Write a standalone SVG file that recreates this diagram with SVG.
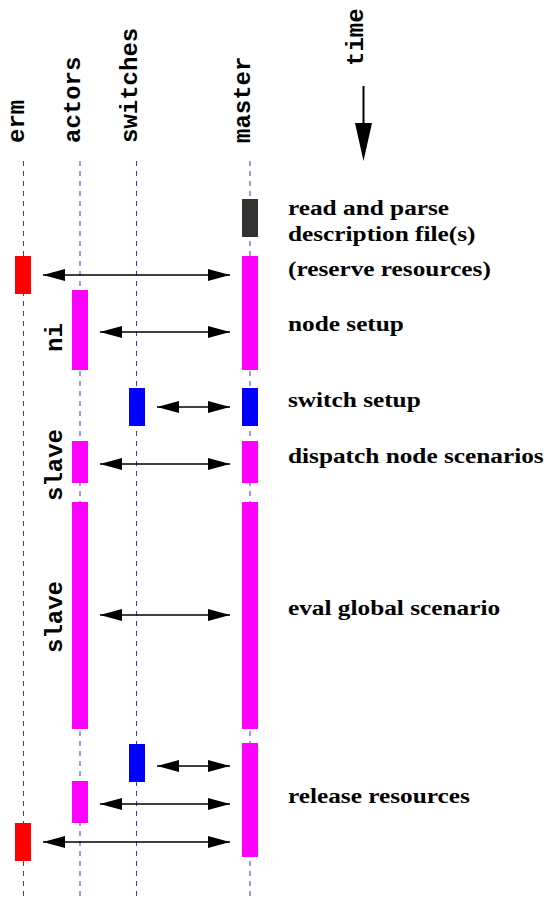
<svg xmlns="http://www.w3.org/2000/svg" width="544" height="899" viewBox="0 0 544 899">
<defs>
<marker id="ah" markerUnits="userSpaceOnUse" markerWidth="22" markerHeight="12" refX="22" refY="6" orient="auto-start-reverse" viewBox="0 0 22 12">
<path d="M0,0 L22,6 L0,12 z" fill="#000"/>
</marker>
<style>
.life{stroke:#3333ff;stroke-width:1;stroke-dasharray:5 5;fill:none}
.lbl{font-family:'Liberation Mono','DejaVu Sans Mono',monospace;font-weight:700;font-size:24px;fill:#000}
.txt{font-family:'Times New Roman','Liberation Serif','DejaVu Serif',serif;font-weight:700;font-size:22px;fill:#000}
.msg{stroke:#000;stroke-width:1.6;fill:none;marker-start:url(#ah);marker-end:url(#ah)}
.mag{fill:#ff00ff}
.red{fill:#ff0000}
.blu{fill:#0000ff}
.drk{fill:#333333}
</style>
</defs>
<rect width="544" height="899" fill="#fff"/>

<g id="lifelines">
<line class="life" x1="23.5" y1="161" x2="23.5" y2="899"/>
<line class="life" x1="80" y1="161" x2="80" y2="899"/>
<line class="life" x1="136.5" y1="161" x2="136.5" y2="899"/>
<line class="life" x1="250" y1="161" x2="250" y2="899"/>
</g>

<g id="headers">
<text class="lbl" transform="translate(23.5,143) rotate(-90)">erm</text>
<text class="lbl" transform="translate(80,143) rotate(-90)">actors</text>
<text class="lbl" transform="translate(137,143) rotate(-90)">switches</text>
<text class="lbl" transform="translate(250,143) rotate(-90)">master</text>
<text class="lbl" transform="translate(363,66) rotate(-90)">time</text>
</g>

<g id="time-arrow">
<line x1="363.5" y1="86" x2="363.5" y2="126" stroke="#000" stroke-width="2"/>
<polygon points="355,123 372,123 363.5,161" fill="#000"/>
</g>

<g id="side-labels">
<text class="lbl" transform="translate(62,352) rotate(-90)">ni</text>
<text class="lbl" transform="translate(62,501) rotate(-90)">slave</text>
<text class="lbl" transform="translate(62,653) rotate(-90)">slave</text>
</g>

<g id="activations">
<rect id="master-parse" class="drk" x="242" y="199" width="16" height="38"/>
<rect id="erm-reserve" class="red" x="15" y="256" width="16" height="38"/>
<rect id="master-reserve" class="mag" x="242" y="256" width="16" height="114"/>
<rect id="actors-ni" class="mag" x="72" y="290" width="16" height="80"/>
<rect id="switches-setup" class="blu" x="129" y="388" width="16" height="38"/>
<rect id="master-switch" class="blu" x="242" y="388" width="16" height="38"/>
<rect id="actors-dispatch" class="mag" x="72" y="441" width="16" height="42"/>
<rect id="master-dispatch" class="mag" x="242" y="441" width="16" height="42"/>
<rect id="actors-eval" class="mag" x="72" y="502" width="16" height="227"/>
<rect id="master-eval" class="mag" x="242" y="502" width="16" height="227"/>
<rect id="switches-release" class="blu" x="129" y="744" width="16" height="38"/>
<rect id="master-release" class="mag" x="242" y="743" width="16" height="114"/>
<rect id="actors-release" class="mag" x="72" y="781" width="16" height="42"/>
<rect id="erm-release" class="red" x="15" y="823" width="16" height="38"/>
</g>

<g id="connectors">
<line class="msg" x1="43" y1="275" x2="230" y2="275"/>
<line class="msg" x1="100" y1="332" x2="230" y2="332"/>
<line class="msg" x1="157" y1="407" x2="230" y2="407"/>
<line class="msg" x1="100" y1="464" x2="230" y2="464"/>
<line class="msg" x1="100" y1="615" x2="230" y2="615"/>
<line class="msg" x1="157" y1="766" x2="230" y2="766"/>
<line class="msg" x1="100" y1="804" x2="230" y2="804"/>
<line class="msg" x1="43" y1="842" x2="230" y2="842"/>
</g>

<g id="step-labels" transform="translate(288,0) scale(1.15,1)">
<text class="txt" x="0" y="215">read and parse</text>
<text class="txt" x="0" y="241">description file(s)</text>
<text class="txt" x="0" y="276">(reserve resources)</text>
<text class="txt" x="0" y="331">node setup</text>
<text class="txt" x="0" y="407">switch setup</text>
<text class="txt" x="0" y="463">dispatch node scenarios</text>
<text class="txt" x="0" y="615">eval global scenario</text>
<text class="txt" x="0" y="803">release resources</text>
</g>
</svg>
